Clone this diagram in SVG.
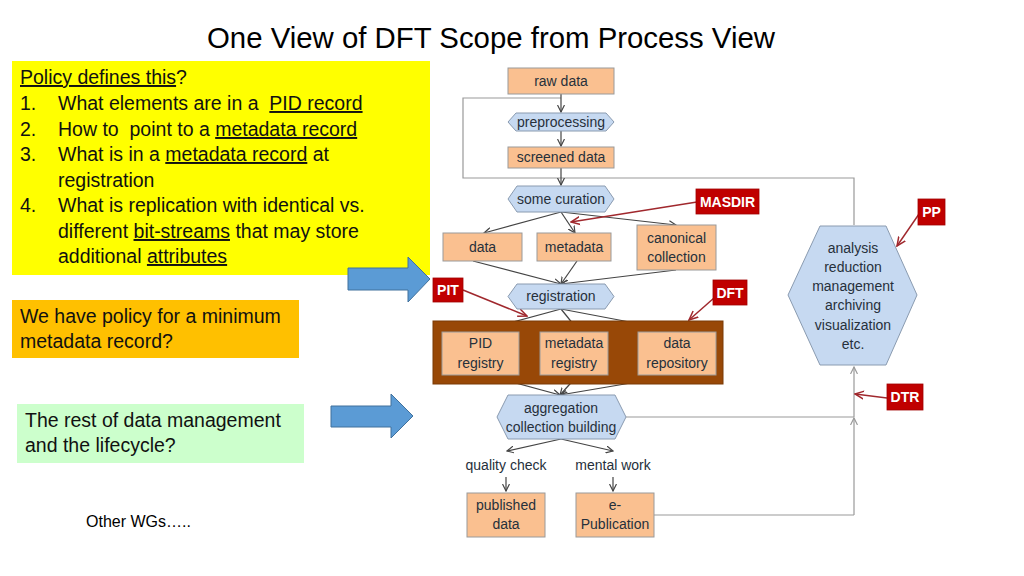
<svg xmlns="http://www.w3.org/2000/svg" width="1024" height="576" viewBox="0 0 1024 576">
<style>
  .t { font-family: "Liberation Sans", Arial, sans-serif; fill: #000; }
  .lt { font-family: "Liberation Sans", Arial, sans-serif; font-size: 19.5px; fill: #111; white-space: pre; }
  .n { font-family: "Liberation Sans", Arial, sans-serif; font-size: 14px; fill: #26303b; text-anchor: middle; }
  .r { font-family: "Liberation Sans", Arial, sans-serif; font-size: 14px; font-weight: bold; fill: #fff; text-anchor: middle; }
  .box { fill: #FAC090; stroke: #9a9a9a; stroke-width: 1; }
  .hex { fill: #C6D9F1; stroke: #8a9bb0; stroke-width: 1; }
  .red { fill: #C00000; stroke: #a00000; stroke-width: 0.8; }
  .c { fill: none; stroke: #444; stroke-width: 1.2; }
  .g { fill: none; stroke: #999; stroke-width: 1.2; }
  .rc { fill: none; stroke: #A0282D; stroke-width: 1.5; }
  .blue { fill: #5B9BD5; stroke: #41719C; stroke-width: 1; }
  .u { text-decoration: underline; }
</style>
<defs>
  <marker id="ah" viewBox="0 0 8 8" refX="7" refY="4" markerWidth="8" markerHeight="8" markerUnits="userSpaceOnUse" orient="auto">
    <path d="M0,0.5 L7,4 L0,7.5" fill="none" stroke="#444" stroke-width="1.2"/>
  </marker>
  <marker id="ahg" viewBox="0 0 8 8" refX="7" refY="4" markerWidth="8" markerHeight="8" markerUnits="userSpaceOnUse" orient="auto">
    <path d="M0,0.5 L7,4 L0,7.5" fill="none" stroke="#999" stroke-width="1.2"/>
  </marker>
  <marker id="ahr" viewBox="0 0 10 10" refX="9" refY="5" markerWidth="10" markerHeight="10" markerUnits="userSpaceOnUse" orient="auto">
    <path d="M0,1 L9,5 L0,9" fill="none" stroke="#A0282D" stroke-width="1.5"/>
  </marker>
</defs>
<rect width="1024" height="576" fill="#fff"/>

<text class="t" x="491" y="48" font-size="29" text-anchor="middle" textLength="568" lengthAdjust="spacingAndGlyphs">One View of DFT Scope from Process View</text>

<g id="policy-box">
  <rect x="12" y="61" width="418" height="214" fill="#FFFF00"/>
  <text class="lt" x="20" y="84"><tspan class="u">Policy defines this</tspan>?</text>
  <text class="lt" x="20" y="110">1.</text>
  <text class="lt" x="58" y="110">What elements are in a  <tspan class="u">PID record</tspan></text>
  <text class="lt" x="20" y="136">2.</text>
  <text class="lt" x="58" y="136">How to  point to a <tspan class="u">metadata record</tspan></text>
  <text class="lt" x="20" y="161">3.</text>
  <text class="lt" x="58" y="161">What is in a <tspan class="u">metadata record</tspan> at</text>
  <text class="lt" x="58" y="187">registration</text>
  <text class="lt" x="20" y="212">4.</text>
  <text class="lt" x="58" y="212">What is replication with identical vs.</text>
  <text class="lt" x="58" y="238">different <tspan class="u">bit-streams</tspan> that may store</text>
  <text class="lt" x="58" y="263">additional <tspan class="u">attributes</tspan></text>
</g>

<g id="min-metadata-box">
  <rect x="12" y="300" width="287" height="58" fill="#FFC000"/>
  <text class="lt" x="20" y="323">We have policy for a minimum</text>
  <text class="lt" x="20" y="348">metadata record?</text>
</g>

<g id="rest-box">
  <rect x="17" y="404" width="287" height="59" fill="#CCFFCC"/>
  <text class="lt" x="25" y="427">The rest of data management</text>
  <text class="lt" x="25" y="452">and the lifecycle?</text>
</g>

<g id="other-wgs">
  <text class="t" x="86" y="527" font-size="16">Other WGs…..</text>
</g>

<g id="arrow-1">
  <polygon class="blue" points="348,268 408,268 408,257 430,279 408,302 408,290 348,290"/>
</g>
<g id="arrow-2">
  <polygon class="blue" points="331,406 391,406 391,394 413,416 391,438 391,427 331,427"/>
</g>

<g id="connectors">
  <polyline class="g" points="561,98 463,98 463,178 854,178 854,225"/>
  <polyline class="g" points="626,417 854,417"/>
  <polyline class="g" points="654,515 854,515"/>
  <line class="g" x1="854" y1="515" x2="854" y2="418" marker-end="url(#ahg)"/>
  <line class="g" x1="854" y1="417" x2="854" y2="367" marker-end="url(#ahg)"/>
  <line class="c" x1="561" y1="94" x2="561" y2="112" marker-end="url(#ah)"/>
  <line class="c" x1="561" y1="131" x2="561" y2="146" marker-end="url(#ah)"/>
  <line class="c" x1="561" y1="168" x2="561" y2="185" marker-end="url(#ah)"/>
  <line class="c" x1="561" y1="212" x2="484" y2="233" marker-end="url(#ah)"/>
  <line class="c" x1="561" y1="212" x2="575" y2="233" marker-end="url(#ah)"/>
  <line class="c" x1="561" y1="212" x2="676" y2="225" marker-end="url(#ah)"/>
  <line class="c" x1="473" y1="261" x2="561" y2="284" marker-end="url(#ah)"/>
  <line class="c" x1="577" y1="261" x2="561" y2="284" marker-end="url(#ah)"/>
  <line class="c" x1="676" y1="270" x2="561" y2="284" marker-end="url(#ah)"/>
  <line class="c" x1="561" y1="309" x2="483" y2="330" marker-end="url(#ah)"/>
  <line class="c" x1="561" y1="309" x2="578" y2="330" marker-end="url(#ah)"/>
  <line class="c" x1="561" y1="309" x2="677" y2="331" marker-end="url(#ah)"/>
  <line class="c" x1="487" y1="375" x2="560" y2="395" marker-end="url(#ah)"/>
  <line class="c" x1="578" y1="375" x2="560" y2="395" marker-end="url(#ah)"/>
  <line class="c" x1="678" y1="375" x2="560" y2="395" marker-end="url(#ah)"/>
  <line class="c" x1="561" y1="439" x2="507" y2="451" marker-end="url(#ah)"/>
  <line class="c" x1="561" y1="439" x2="613" y2="451" marker-end="url(#ah)"/>
  <line class="c" x1="506" y1="477" x2="506" y2="491" marker-end="url(#ah)"/>
  <line class="c" x1="613" y1="477" x2="613" y2="491" marker-end="url(#ah)"/>
  <line class="rc" x1="697" y1="202" x2="571" y2="222" marker-end="url(#ahr)"/>
  <line class="rc" x1="919" y1="214" x2="897" y2="246" marker-end="url(#ahr)"/>
  <line class="rc" x1="463" y1="290" x2="527" y2="316" marker-end="url(#ahr)"/>
  <line class="rc" x1="714" y1="298" x2="689" y2="320" marker-end="url(#ahr)"/>
  <line class="rc" x1="887" y1="398" x2="855" y2="394" marker-end="url(#ahr)"/>
</g>

<g id="raw-data"><rect class="box" x="508" y="68" width="106" height="26"/><text class="n" x="561" y="86">raw data</text></g>
<g id="preprocessing"><polygon class="hex" points="508,122 516,113 606,113 614,122 606,131 516,131"/><text class="n" x="561" y="127">preprocessing</text></g>
<g id="screened-data"><rect class="box" x="508" y="147" width="106" height="21"/><text class="n" x="561" y="162">screened data</text></g>
<g id="some-curation"><polygon class="hex" points="508,199 517,186 605,186 614,199 605,212 517,212"/><text class="n" x="561" y="204">some curation</text></g>
<g id="data"><rect class="box" x="443" y="233" width="79" height="28"/><text class="n" x="482.5" y="252">data</text></g>
<g id="metadata"><rect class="box" x="537" y="233" width="74" height="28"/><text class="n" x="574" y="252">metadata</text></g>
<g id="canonical-collection"><rect class="box" x="637" y="225" width="79" height="45"/><text class="n" x="676.5" y="243">canonical</text><text class="n" x="676.5" y="262">collection</text></g>
<g id="registration"><polygon class="hex" points="508,296.5 517,284 605,284 614,296.5 605,309 517,309"/><text class="n" x="561" y="301">registration</text></g>

<g id="registries">
  <rect x="433" y="321" width="290" height="63" fill="#984807" stroke="#7a3a06"/>
</g>
<g id="pid-registry"><rect class="box" x="442" y="332" width="77" height="43"/><text class="n" x="480.5" y="348">PID</text><text class="n" x="480.5" y="368">registry</text></g>
<g id="metadata-registry"><rect class="box" x="540" y="332" width="68" height="43"/><text class="n" x="574" y="348">metadata</text><text class="n" x="574" y="368">registry</text></g>
<g id="data-repository"><rect class="box" x="638" y="332" width="78" height="43"/><text class="n" x="677" y="348">data</text><text class="n" x="677" y="368">repository</text></g>

<g id="aggregation"><polygon class="hex" points="497,417 508,395 615,395 626,417 615,439 508,439"/><text class="n" x="561" y="413">aggregation</text><text class="n" x="561" y="432">collection building</text></g>
<g id="quality-check"><text class="n" x="506" y="470">quality check</text></g>
<g id="mental-work"><text class="n" x="613" y="470">mental work</text></g>
<g id="published-data"><rect class="box" x="467" y="493" width="78" height="44"/><text class="n" x="506" y="510">published</text><text class="n" x="506" y="529">data</text></g>
<g id="e-publication"><rect class="box" x="576" y="493" width="78" height="44"/><text class="n" x="615" y="510">e-</text><text class="n" x="615" y="529">Publication</text></g>

<g id="analysis">
  <polygon class="hex" points="820,226 886,226 917,295 886,365 820,365 788,295"/>
  <text class="n" x="853" y="253">analysis</text>
  <text class="n" x="853" y="272">reduction</text>
  <text class="n" x="853" y="291">management</text>
  <text class="n" x="853" y="310">archiving</text>
  <text class="n" x="853" y="330">visualization</text>
  <text class="n" x="853" y="349">etc.</text>
</g>

<g id="masdir"><rect class="red" x="696" y="189" width="63" height="25"/><text class="r" x="727.5" y="206.5">MASDIR</text></g>
<g id="pp"><rect class="red" x="918" y="199" width="27" height="26"/><text class="r" x="931.5" y="217">PP</text></g>
<g id="pit"><rect class="red" x="433" y="278" width="30" height="24"/><text class="r" x="448" y="295">PIT</text></g>
<g id="dft"><rect class="red" x="713" y="280" width="34" height="25"/><text class="r" x="730" y="297.5">DFT</text></g>
<g id="dtr"><rect class="red" x="887" y="384" width="36" height="26"/><text class="r" x="905" y="402">DTR</text></g>
</svg>
